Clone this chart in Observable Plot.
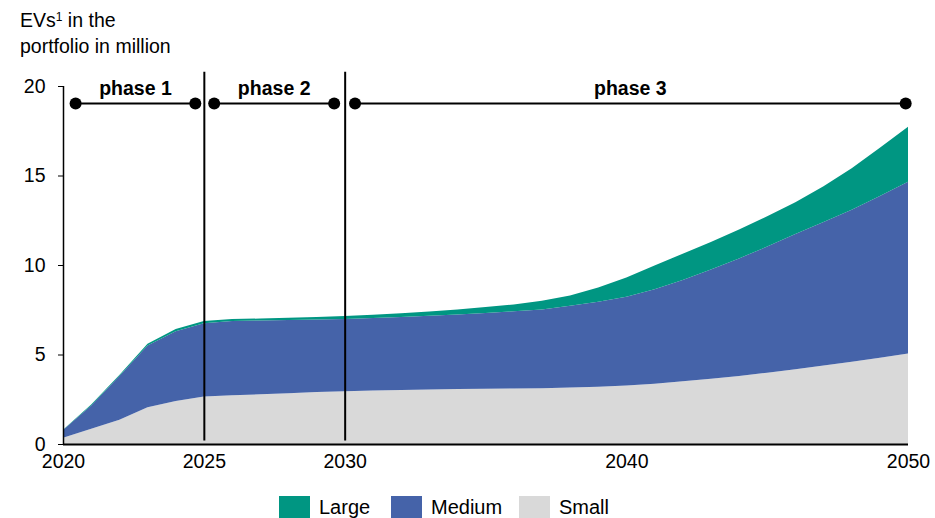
<!DOCTYPE html>
<html><head><meta charset="utf-8">
<script src="https://cdn.jsdelivr.net/npm/d3@7"></script>
<script src="https://cdn.jsdelivr.net/npm/@observablehq/plot@0.6"></script>
<style>
body{margin:0;background:#fff;font-family:"Liberation Sans",Arial,sans-serif;color:#000;}
#wrap{position:relative;width:935px;height:518px;overflow:hidden;}
#chart{position:absolute;left:0;top:0;}
#title{position:absolute;left:20px;top:7px;font-size:19.5px;line-height:26px;z-index:2;}
#title sup{font-size:12px;vertical-align:top;position:relative;top:-3px;}
.lg{position:absolute;top:496px;display:flex;align-items:center;font-size:20px;line-height:22px;z-index:2;}
.sw{width:31px;height:22px;margin-right:9px;}
</style>
</head><body>
<div id="wrap">
  <div id="chart"></div>
  <div id="title">EVs<sup>1</sup> in the<br>portfolio in million</div>
  <div id="legend"></div>
</div>
<script>
const years = d3.range(2020, 2051);
const seriesNames = ["Small", "Medium", "Large"];
const seriesColors = ["#d9d9d9", "#4563a9", "#009682"];
const small = [0.35,0.85,1.35,2.05,2.4,2.65,2.72,2.78,2.84,2.9,2.95,2.99,3.02,3.05,3.07,3.09,3.1,3.12,3.15,3.2,3.27,3.37,3.5,3.64,3.8,3.98,4.18,4.38,4.6,4.82,5.05];
const medium = [0.43,1.3,2.45,3.45,3.9,4.09,4.15,4.12,4.09,4.06,4.04,4.05,4.08,4.12,4.17,4.23,4.31,4.4,4.57,4.75,4.96,5.28,5.66,6.11,6.57,7.05,7.55,8.02,8.48,9.03,9.6];
const large = [0.02,0.05,0.05,0.1,0.12,0.13,0.11,0.11,0.12,0.14,0.16,0.18,0.2,0.23,0.28,0.33,0.39,0.48,0.58,0.8,1.07,1.32,1.47,1.54,1.61,1.69,1.78,2.0,2.32,2.7,3.08];
const yTicks = [0, 5, 10, 15, 20];
const xTicks = [2020, 2025, 2030, 2040, 2050];
const dividers = [2025, 2030];
const phaseLabels = ["phase 1", "phase 2", "phase 3"];
const phaseStart = [2020.43, 2025.35, 2030.35];
const phaseEnd = [2024.68, 2029.61, 2049.9];
const phaseLevel = 19.05;
const labelLevel = 19.85;

const data = [];
years.forEach((yr, i) => {
  data.push({year: yr, series: "Small", value: small[i]});
  data.push({year: yr, series: "Medium", value: medium[i]});
  data.push({year: yr, series: "Large", value: large[i]});
});
const phases = phaseLabels.map((p, i) => ({label: p, x1: phaseStart[i], x2: phaseEnd[i], mid: (phaseStart[i] + phaseEnd[i]) / 2}));
const dots = phases.flatMap(p => [{x: p.x1}, {x: p.x2}]);

const chart = Plot.plot({
  width: 935,
  height: 480,
  marginTop: 86,
  marginBottom: 36,
  marginLeft: 63,
  marginRight: 27,
  style: {background: "transparent", fontFamily: "'Liberation Sans', Arial, sans-serif", fontSize: "19px", color: "#000"},
  x: {domain: [2020, 2050], axis: null},
  y: {domain: [0, 20], axis: null},
  color: {domain: seriesNames, range: seriesColors},
  marks: [
    Plot.areaY(data, {x: "year", y: "value", z: "series", fill: "series", curve: "linear", order: seriesNames}),
    Plot.ruleX(dividers, {x: d => d, y1: 0.2, y2: 20.8, stroke: "#000", strokeWidth: 2}),
    Plot.ruleX([2020], {y1: 0, y2: 20, stroke: "#000", strokeWidth: 1.5}),
    Plot.ruleY([0], {x1: 2020, x2: 2050, stroke: "#000", strokeWidth: 2}),
    Plot.axisY({ticks: yTicks, tickSize: 5, tickPadding: 13, fontSize: 19.5, label: null, tickFormat: d => String(d)}),
    Plot.axisX({ticks: xTicks, tickSize: 0, tickPadding: 10, fontSize: 19.5, label: null, tickFormat: d => String(d)}),
    Plot.ruleY(phases, {x1: "x1", x2: "x2", y: phaseLevel, stroke: "#000", strokeWidth: 2}),
    Plot.dot(dots, {x: "x", y: phaseLevel, r: 6, fill: "#000"}),
    Plot.text(phases, {x: "mid", y: labelLevel, text: "label", fontWeight: "bold", fontSize: 19.5, fill: "#000"})
  ]
});
document.getElementById("chart").appendChild(chart);

const legendX = [279, 391, 519];
const legendOrder = ["Large", "Medium", "Small"];
const lg = document.getElementById("legend");
legendOrder.forEach((name, i) => {
  const item = document.createElement("div");
  item.className = "lg";
  item.style.left = legendX[i] + "px";
  const sw = document.createElement("div");
  sw.className = "sw";
  sw.style.background = seriesColors[seriesNames.indexOf(name)];
  item.appendChild(sw);
  const t = document.createElement("span");
  t.textContent = name;
  item.appendChild(t);
  lg.appendChild(item);
});
</script>
</body></html>
